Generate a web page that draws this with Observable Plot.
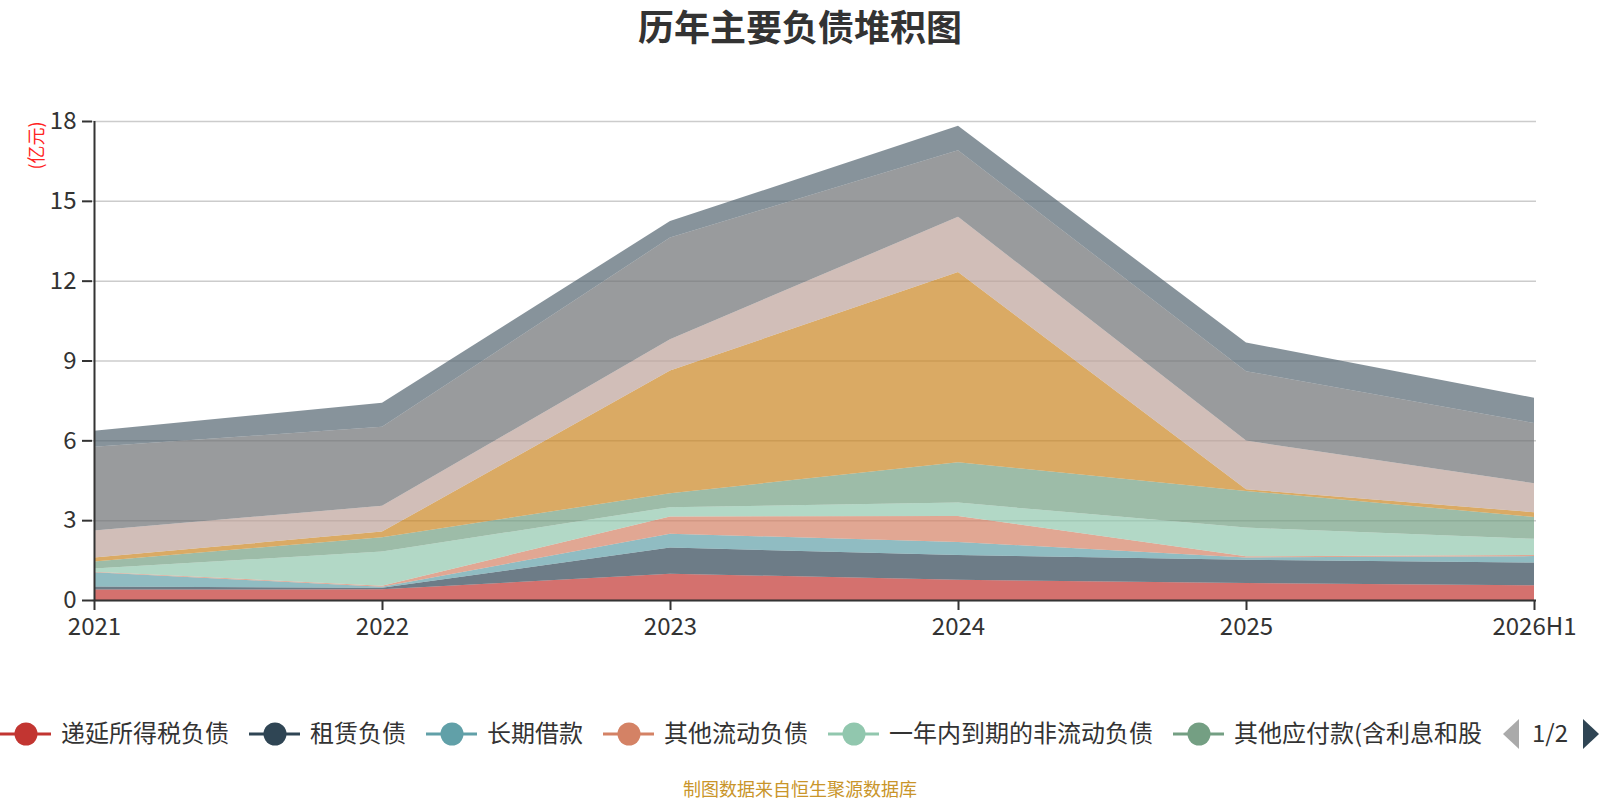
<!DOCTYPE html>
<html>
<head>
<meta charset="utf-8">
<script src="https://cdn.jsdelivr.net/npm/d3@7"></script>
<script src="https://cdn.jsdelivr.net/npm/@observablehq/plot@0.6"></script>
<style>
  html, body { margin: 0; padding: 0; background: #fff; }
  body { width: 1600px; height: 800px; overflow: hidden; font-family: "Noto Sans CJK SC", "Noto Sans", sans-serif; }
  #title { height: 60px; line-height: 50px; text-align: center; font-size: 36px; font-weight: bold; color: #333; }
  #chart svg, #legend svg { display: block; }
</style>
</head>
<body>
<div id="title">历年主要负债堆积图</div>
<div id="chart"></div>
<div id="legend"></div>
<script>
// ---- data (亿元) ----
const years = ["2021", "2022", "2023", "2024", "2025", "2026H1"];
const seriesNames = [
  "递延所得税负债",
  "租赁负债",
  "长期借款",
  "其他流动负债",
  "一年内到期的非流动负债",
  "其他应付款(含利息和股利)",
  "合同负债",
  "应付账款",
  "应付票据",
  "短期借款"
];
const deferredTaxLiab   = [0.39, 0.40, 0.99, 0.76, 0.64, 0.55];
const leaseLiab         = [0.12, 0.06, 0.98, 0.93, 0.87, 0.86];
const longTermLoans     = [0.53, 0.04, 0.52, 0.49, 0.09, 0.24];
const otherCurrentLiab  = [0.02, 0.04, 0.65, 0.98, 0.04, 0.04];
const nonCurrentDue1Y   = [0.12, 1.28, 0.35, 0.50, 1.08, 0.61];
const otherPayables     = [0.27, 0.54, 0.52, 1.52, 1.38, 0.82];
const contractLiab      = [0.15, 0.21, 4.61, 7.15, 0.06, 0.18];
const accountsPayable   = [1.01, 0.97, 1.18, 2.07, 1.83, 1.09];
const notesPayable      = [3.15, 2.97, 3.82, 2.50, 2.61, 2.26];
const shortTermLoans    = [0.60, 0.90, 0.62, 0.92, 1.08, 0.95];
const seriesValues = [deferredTaxLiab, leaseLiab, longTermLoans, otherCurrentLiab, nonCurrentDue1Y,
                      otherPayables, contractLiab, accountsPayable, notesPayable, shortTermLoans];
const yTicks = [0, 3, 6, 9, 12, 15, 18];
const legendPageLabel = "1/2";
const legendVisibleCount = 6;

// ---- styles ----
const colors = ["#c23531", "#2f4554", "#61a0a8", "#d48265", "#91c7ae", "#749f83",
                "#ca8622", "#bda29a", "#6e7074", "#546570"];

const table = seriesNames.flatMap((name, i) =>
  years.map((year, j) => ({year, name, value: seriesValues[i][j]})));

const fontFamily = '"Noto Sans CJK SC", "Noto Sans", sans-serif';

const chart = Plot.plot({
  width: 1600,
  height: 640,
  marginTop: 61,
  marginBottom: 100,
  marginLeft: 92,
  marginRight: 64,
  style: {fontFamily, fontSize: "24px", color: "#333", background: "transparent", overflow: "visible"},
  x: {type: "point", domain: years, padding: 0, label: null},
  y: {domain: [0, 18], label: null},
  color: {domain: seriesNames, range: colors},
  marks: [
    Plot.gridY(yTicks, {stroke: "#ccc", strokeOpacity: 1, strokeWidth: 1.5}),
    Plot.areaY(table, {x: "year", y: "value", z: "name", fill: "name", fillOpacity: 0.7, order: null}),
    Plot.ruleX([years[0]], {stroke: "#333", strokeWidth: 2}),
    Plot.ruleY([0], {stroke: "#333", strokeWidth: 2}),
    Plot.axisY({ticks: yTicks, tickSize: 10, tickPadding: 6, fontSize: 24, stroke: "#333", strokeWidth: 2, fill: "#333", label: null}),
    Plot.axisX({tickSize: 10, tickPadding: 7, fontSize: 24, stroke: "#333", strokeWidth: 2, fill: "#333", label: null}),
    Plot.text(["(亿元)"], {frameAnchor: "top-left", dx: -62, dy: 24, rotate: -90, fill: "#f22", fontSize: 18, textAnchor: "middle"})
  ]
});
document.getElementById("chart").appendChild(chart);

// ---- legend (first page) ----
const lsvg = d3.select("#legend").append("svg").attr("width", 1600).attr("height", 100)
  .style("font-family", fontFamily);
lsvg.append("defs").append("clipPath").attr("id", "lclip")
  .append("rect").attr("x", 0).attr("y", 0).attr("width", 1482).attr("height", 100);
const lg = lsvg.append("g").attr("clip-path", "url(#lclip)");
const cy = 34;
let lx = 0;
seriesNames.slice(0, legendVisibleCount).forEach((name, i) => {
  const g = lg.append("g");
  g.append("line").attr("x1", lx).attr("x2", lx + 51).attr("y1", cy).attr("y2", cy)
    .attr("stroke", colors[i]).attr("stroke-width", 3);
  g.append("circle").attr("cx", lx + 26).attr("cy", cy).attr("r", 11.5).attr("fill", colors[i]);
  const t = g.append("text").attr("x", lx + 61).attr("y", cy).attr("dy", "0.35em")
    .attr("font-size", 24).attr("fill", "#333").text(name);
  const w = t.node().getComputedTextLength();
  lx += 61 + w + 20;
});
// pager
lsvg.append("path").attr("d", `M1519,${cy - 15} L1503,${cy} L1519,${cy + 15} Z`).attr("fill", "#aaa");
lsvg.append("text").attr("x", 1550).attr("y", cy).attr("dy", "0.35em").attr("text-anchor", "middle")
  .attr("font-size", 24).attr("fill", "#333").text(legendPageLabel);
lsvg.append("path").attr("d", `M1583,${cy - 15} L1599,${cy} L1583,${cy + 15} Z`).attr("fill", "#2f4554");
// caption
lsvg.append("text").attr("x", 800).attr("y", 90).attr("dy", "0.35em").attr("text-anchor", "middle")
  .attr("font-size", 18).attr("fill", "#c9952a").text("制图数据来自恒生聚源数据库");
</script>
</body>
</html>
